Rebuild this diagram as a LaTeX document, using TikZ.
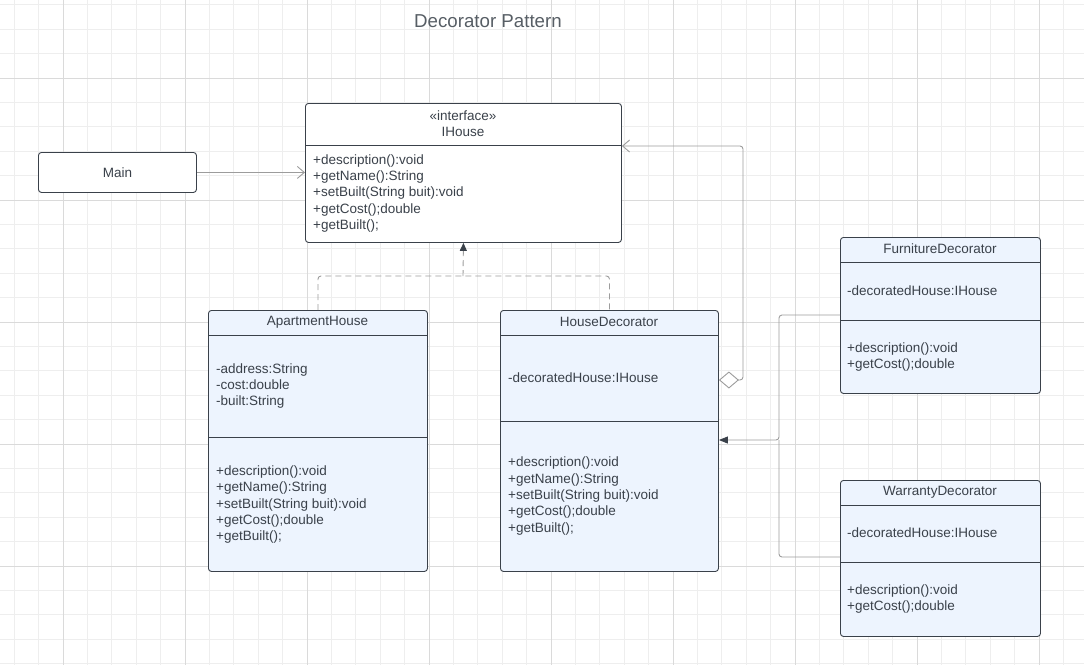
\documentclass[tikz,border=0pt]{standalone}
\usepackage{fontspec}
\setmainfont{Liberation Sans}
\usetikzlibrary{arrows.meta}
\definecolor{lucidtext}{HTML}{3A414A}
\definecolor{lucidfill}{HTML}{EDF4FE}
\definecolor{lucidwire}{HTML}{9C9C9C}
\definecolor{gridminor}{HTML}{EEEEEE}
\definecolor{gridmajor}{HTML}{DADADA}
\tikzset{
  classbox/.style = {draw = lucidtext, line width = 0.9pt, rounded corners = 3pt, fill = lucidfill, anchor = north west, inner sep = 0pt},
  classtext/.style = {text = lucidtext, font = \fontsize{13.5}{16.3}\selectfont, inner sep = 0pt, align = left, anchor = west},
  classname/.style = {classtext, align = center, anchor = center},
  divider/.style = {draw = lucidtext, line width = 0.9pt},
  wire/.style = {draw = lucidwire, line width = 0.9pt, rounded corners = 3pt},
  openhead/.style = {wire, -{Straight Barb[length = 7pt, width = 12pt, line width = 0.9pt]}},
  aggregate/.style = {openhead, {Diamond[length = 20pt, width = 17pt, fill = white, line width = 0.9pt]}-{Straight Barb[length = 7pt, width = 12pt, line width = 0.9pt]}},
  inherit/.style = {wire, -{Triangle[length = 9pt, width = 7pt, color = lucidtext]}},
  realize/.style = {wire, dash pattern = on 6pt off 4pt, rounded corners = 3pt}
}
\begin{document}
\begin{tikzpicture}[x = 1pt, y = -1pt]
\useasboundingbox [fill = white] (0,0) rectangle (1084,665);
% grid
\foreach \n in {0,...,44} \draw [gridminor, line width = 0.7pt] (14.2+24.4*\n,0) -- ++(0,665);
\foreach \n in {0,...,27} \draw [gridminor, line width = 0.7pt] (0,4.8+24.4*\n) -- ++(1084,0);
\foreach \n in {0,...,8} \draw [gridmajor, line width = 0.8pt] (63+122*\n,0) -- ++(0,665);
\foreach \n in {0,...,4} \draw [gridmajor, line width = 0.8pt] (0,78.5+121.9*\n) -- ++(1084,0);
% title
\node [text = lucidtext!85, font = \fontsize{18.7}{22}\selectfont] (title) at (488,21.5) {Decorator Pattern};
% main
\node [classbox, fill = white, minimum width = 158, minimum height = 40, anchor = north west, text = lucidtext, font = \fontsize{13.5}{16.3}\selectfont] (main) at (38,152) {Main};
% interface
\node [classbox, fill = white, minimum width = 316, minimum height = 139] (ihouse) at (305,103) {};
\draw [divider] (305,145) -- (621,145);
\node [classname] (ihousename) at (463,123.5) {«interface»\\IHouse};
\node [classtext] (ihouseops) at (313,193.5) {+description():void\\+getName():String\\+setBuilt(String buit):void\\+getCost();double\\+getBuilt();};
% apartment
\node [classbox, minimum width = 219, minimum height = 261] (apt) at (208,310) {};
\draw [divider] (208,335) -- (427,335);
\draw [divider] (208,437) -- (427,437);
\node [classname] (aptname) at (317.5,322.5) {ApartmentHouse};
\node [classtext] (aptattr) at (216,386) {-address:String\\-cost:double\\-built:String};
\node [classtext] (aptops) at (216,504.5) {+description():void\\+getName():String\\+setBuilt(String buit):void\\+getCost();double\\+getBuilt();};
% decorator
\node [classbox, minimum width = 218, minimum height = 261] (hdec) at (500,310) {};
\draw [divider] (500,335) -- (718,335);
\draw [divider] (500,421) -- (718,421);
\node [classname] (hdecname) at (609,322) {HouseDecorator};
\node [classtext] (hdecattr) at (508,378) {-decoratedHouse:IHouse};
\node [classtext] (hdecops) at (508,496) {+description():void\\+getName():String\\+setBuilt(String buit):void\\+getCost();double\\+getBuilt();};
% furniture
\node [classbox, minimum width = 200, minimum height = 156] (furn) at (840,237) {};
\draw [divider] (840,262) -- (1040,262);
\draw [divider] (840,320) -- (1040,320);
\node [classname] (furnname) at (940,249) {FurnitureDecorator};
\node [classtext] (furnattr) at (847,291) {-decoratedHouse:IHouse};
\node [classtext] (furnops) at (847,357) {+description():void\\+getCost();double};
% warranty
\node [classbox, minimum width = 200, minimum height = 156] (warr) at (840,480) {};
\draw [divider] (840,505) -- (1040,505);
\draw [divider] (840,562) -- (1040,562);
\node [classname] (warrname) at (940,492) {WarrantyDecorator};
\node [classtext] (warrattr) at (847,533) {-decoratedHouse:IHouse};
\node [classtext] (warrops) at (847,599) {+description():void\\+getCost();double};
% connectors
\coordinate (aggbend) at (743,146);
\coordinate (realjoin) at (463,276);
\coordinate (inhjoin) at (779,440);
\draw [openhead] (main.east) -- (main.east -| ihouse.west);
\draw [aggregate] (hdec.east |- 0,380) -| (aggbend) -- (aggbend -| ihouse.east);
\draw [realize] (apt.north) |- (realjoin) -| (hdec.north);
\draw [realize, -{Triangle[length = 8pt, width = 7pt, color = lucidtext]}] (realjoin) -- (ihouse.south);
\draw [inherit] (furn.west |- 0,315) -| (inhjoin) -- (inhjoin -| hdec.east);
\draw [wire] (warr.west |- 0,557) -| (inhjoin);
\end{tikzpicture}
\end{document}
